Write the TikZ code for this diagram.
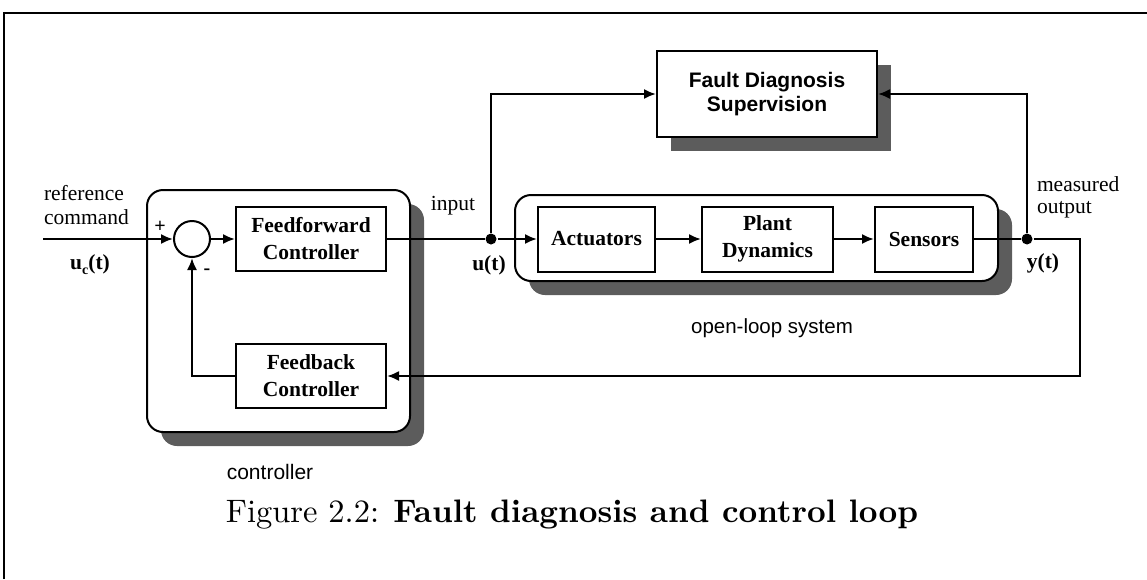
\documentclass[tikz,border=0pt]{standalone}
\usepackage{fontspec}
\newfontfamily\tms{Liberation Serif}
\newfontfamily\arl{Liberation Sans}
\newfontfamily\capfont{lmroman10-regular.otf}[BoldFont=lmroman10-bold.otf]
\usetikzlibrary{arrows.meta,calc,shadows}
\definecolor{shade}{gray}{0.36}
\begin{document}
\begin{tikzpicture}[x=1pt,y=-1pt,line width=2pt,
  >={Latex[length=12pt,width=10pt]},
  blk/.style={draw,fill=white,line width=2pt,align=center,inner sep=0pt,
    font=\tms\bfseries\fontsize{21.5}{27}\selectfont},
  sblk/.style={draw,fill=white,line width=2pt,align=center,inner sep=0pt,
    font=\arl\bfseries\fontsize{21}{24}\selectfont,
    drop shadow={shadow xshift=14pt,shadow yshift=-14pt,fill=shade,opacity=1}},
  lbl/.style={inner sep=0pt,font=\tms\fontsize{21.5}{27}\selectfont},
  blbl/.style={inner sep=0pt,font=\tms\bfseries\fontsize{21.5}{27}\selectfont},
  slbl/.style={inner sep=0pt,font=\arl\fontsize{21}{25}\selectfont},
  dot/.style={circle,fill,inner sep=0pt,minimum size=11pt},
  container/.style={draw,fill=white,rounded corners=16pt,line width=2pt},
  cshadow/.style={fill=shade,rounded corners=16pt,draw=none}]
\useasboundingbox (0,0) rectangle (1147,579);
% frame
\draw[line width=2pt] (4,579) -- (4,13) -- (1147,13);
% containers
\fill[cshadow] (161,204) rectangle (424,446);
\draw[container] (147,190) rectangle (410,432);
\fill[cshadow] (529,209) rectangle (1012,295);
\draw[container] (515,195) rectangle (998,281);
% blocks
\node[circle,draw,minimum size=36pt,inner sep=0pt] (sum) at (192,239) {};
\node[blk,minimum width=150pt,minimum height=64pt] (ff) at (311,239) {Feedforward\\Controller};
\node[blk,minimum width=150pt,minimum height=64pt] (fb) at (311,376) {Feedback\\Controller};
\node[blk,minimum width=117pt,minimum height=65pt] (act) at (596.5,239) {Actuators};
\node[blk,minimum width=131pt,minimum height=65pt] (plant) at (767.5,239) {Plant\\Dynamics};
\node[blk,minimum width=98pt,minimum height=65pt] (sens) at (924,239) {Sensors};
\node[sblk,minimum width=220pt,minimum height=86pt] (fault) at (767,94) {Fault Diagnosis\\Supervision};
% junctions
\node[dot] (u) at (491,239) {};
\node[dot] (y) at (1027,239) {};
\coordinate (refin) at (43,239);
\coordinate (rc) at (1080,239);
% connectors
\draw[->] (refin) -- (sum.west);
\draw[->] (sum.east) -- (ff.west);
\draw (ff.east) -- (u);
\draw[->] (u) -- (act.west);
\draw[->] (act.east) -- (plant.west);
\draw[->] (plant.east) -- (sens.west);
\draw (sens.east) -- (y);
\draw[->] (u) |- (fault.west);
\draw[->] (y) |- (fault.east);
\draw[->] (y) -- (rc) |- (fb.east);
\draw[->] (fb.west) -| (sum.south);
% labels
\node[lbl,anchor=west] (l1) at (43,193) {reference};
\node[lbl,anchor=west] (l2) at (43,217) {command};
\node[blbl] (l3) at (90,265) {u\raisebox{-5pt}{\fontsize{14}{14}\selectfont c}(t)};
\node[blbl,font=\tms\bfseries\fontsize{20}{20}\selectfont] (plus) at (160,227) {+};
\node[blbl,font=\tms\bfseries\fontsize{20}{20}\selectfont] (minus) at (207,272) {-};
\node[lbl] (l4) at (453,206) {input};
\node[blbl] (l5) at (489,265) {u(t)};
\node[lbl,anchor=west] (l6) at (1036,184) {measured};
\node[lbl,anchor=west] (l7) at (1036,210) {output};
\node[blbl] (l8) at (1043,263) {y(t)};
\node[slbl,font=\arl\fontsize{20.5}{24}\selectfont] (l9) at (772,328) {open-loop system};
\node[slbl] (l10) at (270,472) {controller};
\node[inner sep=0pt,font=\capfont\fontsize{32.5}{38}\selectfont] (cap) at (572,515) {Figure 2.2: \textbf{Fault diagnosis and control loop}};
\end{tikzpicture}
\end{document}
